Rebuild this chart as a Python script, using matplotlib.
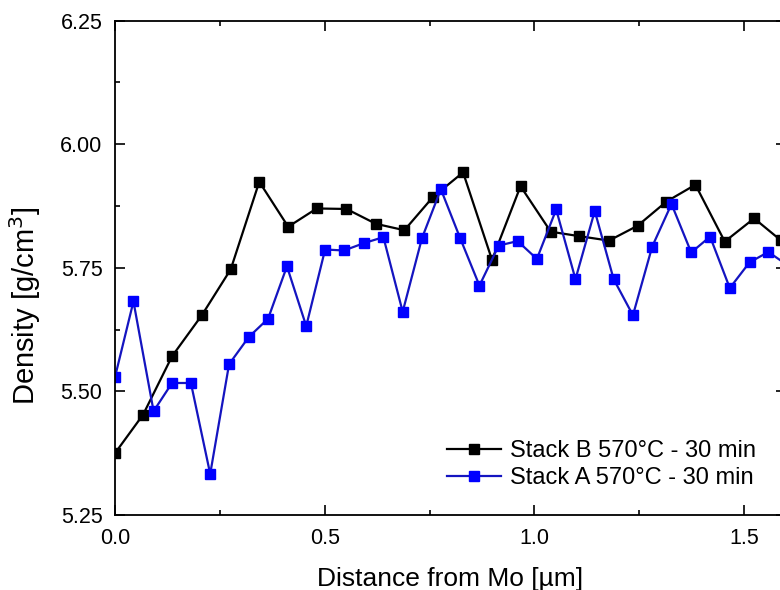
import matplotlib
matplotlib.use("Agg")
import matplotlib.pyplot as plt
from matplotlib.ticker import MultipleLocator

plt.rcParams['font.family'] = ['Liberation Sans', 'DejaVu Sans']

# Stack B 570C - 30 min (black)
dist_b = [0.0, 0.067, 0.136, 0.207, 0.276, 0.344, 0.413, 0.481, 0.552, 0.622,
          0.690, 0.758, 0.830, 0.899, 0.967, 1.039, 1.107, 1.178, 1.246, 1.315,
          1.384, 1.454, 1.524, 1.587]
dens_b = [5.375, 5.453, 5.571, 5.654, 5.747, 5.924, 5.833, 5.870, 5.869, 5.839,
          5.826, 5.893, 5.943, 5.766, 5.915, 5.823, 5.814, 5.805, 5.835, 5.884,
          5.918, 5.803, 5.850, 5.806]

# Stack A 570C - 30 min (blue)
dist_a = [0.0, 0.044, 0.092, 0.136, 0.181, 0.227, 0.272, 0.319, 0.365, 0.410,
          0.456, 0.501, 0.546, 0.594, 0.640, 0.686, 0.732, 0.777, 0.823, 0.869,
          0.915, 0.960, 1.006, 1.052, 1.098, 1.144, 1.189, 1.235, 1.281, 1.327,
          1.374, 1.419, 1.466, 1.513, 1.558, 1.604]
dens_a = [5.529, 5.682, 5.460, 5.517, 5.517, 5.333, 5.555, 5.610, 5.647, 5.753,
          5.632, 5.787, 5.785, 5.800, 5.812, 5.661, 5.810, 5.909, 5.810, 5.714,
          5.795, 5.804, 5.768, 5.868, 5.727, 5.865, 5.727, 5.654, 5.793, 5.879,
          5.781, 5.813, 5.709, 5.761, 5.782, 5.755]

fig = plt.figure(figsize=(7.8, 5.9), dpi=100)
# axes run a bit past the right edge of the picture, like the cropped original
ax = fig.add_axes([115/780, 1 - 515/590, (786-115)/780, (515-20.6)/590])

ax.plot(dist_b, dens_b, color='black', lw=1.6, marker='s', ms=7,
        label='Stack B 570°C - 30 min')
ax.plot(dist_a, dens_a, color='#1414c0', lw=1.6, marker='s', ms=7,
        markerfacecolor='#0000ff', markeredgecolor='#0000ff',
        label='Stack A 570°C - 30 min')

ax.set_xlim(0, 1.6)
ax.set_ylim(5.25, 6.25)
ax.xaxis.set_major_locator(MultipleLocator(0.5))
ax.xaxis.set_minor_locator(MultipleLocator(0.25))
ax.yaxis.set_major_locator(MultipleLocator(0.25))
ax.yaxis.set_minor_locator(MultipleLocator(0.125))
ax.xaxis.set_major_formatter(plt.FormatStrFormatter('%.1f'))
ax.yaxis.set_major_formatter(plt.FormatStrFormatter('%.2f'))

ax.tick_params(which='both', direction='in', top=True, right=True,
               labelsize=15.5, width=1.2, pad=9)
ax.tick_params(which='major', length=7)
ax.tick_params(which='minor', length=3.5)
for s in ax.spines.values():
    s.set_linewidth(1.3)

ax.set_xlabel('Distance from Mo [µm]', fontsize=19)
ax.set_ylabel('Density [g/cm$^3$]', fontsize=21)
ax.xaxis.set_label_coords(0.5, -0.106)
ax.yaxis.set_label_coords(-0.108, 0.423)

ax.legend(loc='lower left', bbox_to_anchor=(0.495, 0.053), frameon=False,
          fontsize=17, handlelength=2.3, handletextpad=0.35, labelspacing=0.2,
          borderaxespad=0, borderpad=0)

fig.savefig('out.png', dpi=100)
